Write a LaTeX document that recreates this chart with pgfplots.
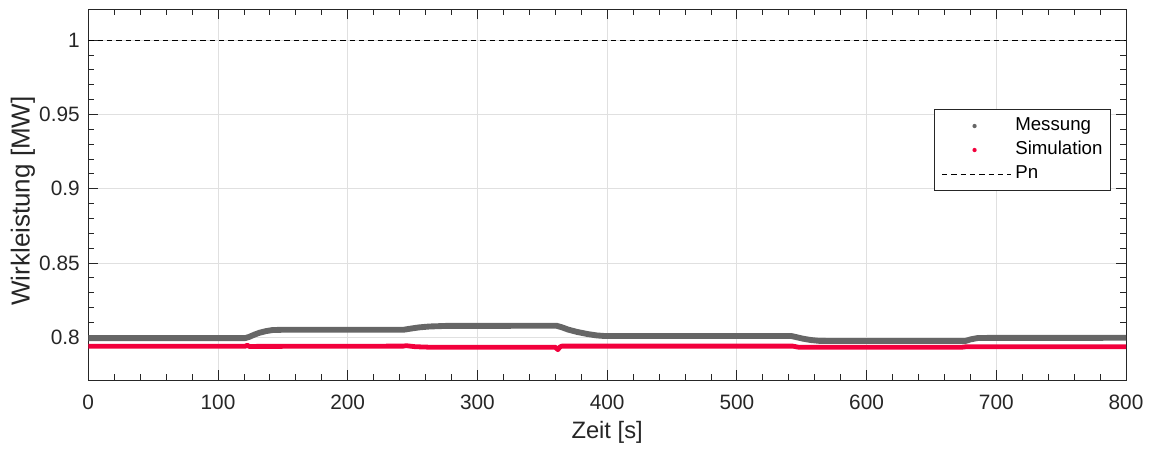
\documentclass[border=0pt]{standalone}
\usepackage{fontspec}
\setmainfont{Liberation Sans}
\usepackage{pgfplots}
\pgfplotsset{compat=1.18}
\definecolor{mess}{HTML}{666666}
\definecolor{simu}{HTML}{F2003C}
\definecolor{axc}{HTML}{262626}
\definecolor{gridc}{HTML}{E0E0E0}
\begin{document}
\begin{tikzpicture}
\begin{axis}[name=ax, scale only axis, width=778.3pt, height=278pt,
  xmin=0, xmax=800, ymin=0.7713, ymax=1.0207,
  xtick={0,100,...,800}, ytick={0.8,0.85,0.9,0.95,1},
  xticklabels={0,100,200,300,400,500,600,700,800},
  yticklabels={0.8,0.85,0.9,0.95,1},
  minor x tick num=4, minor y tick num=4,
  tick align=inside, major tick length=7.5pt, minor tick length=4.5pt,
  axis line style={axc, line width=0.6pt},
  every tick/.style={axc, line width=0.6pt},
  grid=major, major grid style={gridc, line width=0.6pt},
  /pgf/number format/assume math mode=true,
  tick label style={font=\fontsize{15.6}{18}\selectfont, text=axc},
  xticklabel style={anchor=center, yshift=-16.7pt},
  yticklabel style={anchor=east, inner sep=0pt, xshift=-6.2pt},
  xlabel={Zeit [s]}, ylabel={Wirkleistung [MW]},
  xlabel style={font=\fontsize{17.8}{20}\selectfont, text=axc, at={(axis description cs:0.5,-0.141)}, anchor=center},
  ylabel style={font=\fontsize{19.5}{22}\selectfont, text=axc, at={(axis description cs:-0.063,0.483)}, anchor=center},
  legend style={at={(rel axis cs:0.9853,0.731)}, anchor=north east,
    draw=axc, line width=0.45pt, fill=white,
    font=\fontsize{14}{16}\selectfont,
    inner xsep=3pt, inner ysep=3.5pt, row sep=0pt,
    nodes={inner xsep=3pt, inner ysep=2pt, text height=10.5pt, text depth=3.5pt}},
  legend cell align=left,
]
\addplot[mess, line width=4.4pt, line join=round,
  legend image code/.code={\path[draw=none] (-5.5pt,0) -- (48.75pt,0); \fill[mess, draw=none] (21.5pt,0) circle (1.6pt);}]
  coordinates {
  (0,0.7995) (121,0.7995) (124,0.8003) (128,0.8018) (132,0.8031) (137,0.8042) (142,0.8049) (150,0.8051)
  (243,0.8051) (248,0.8058) (255,0.8067) (263,0.8073) (276,0.8077) (361,0.8078)
  (365,0.8068) (370,0.8052) (377,0.8036) (385,0.8022) (392,0.8013) (398,0.8009) (542,0.8009)
  (546,0.8001) (551,0.7991) (557,0.7982) (564,0.7976) (600,0.7975) (676,0.7975)
  (680,0.7986) (686,0.7996) (800,0.7997)
  };
\addlegendentry{Messung}
\addplot[simu, line width=3.6pt, line join=round,
  legend image code/.code={\path[draw=none] (-5.5pt,0) -- (48.75pt,0); \fill[simu, draw=none] (21.5pt,0) circle (1.6pt);}]
  coordinates {
  (0,0.7940) (121,0.7940) (122.5,0.7947) (124,0.7939) (243,0.7941) (245,0.7944) (252,0.7937)
  (262,0.7934) (360,0.7934) (362,0.7917) (363.5,0.7934) (365,0.7941) (543,0.7941)
  (548,0.7933) (673,0.7933) (677,0.7937) (800,0.7937)
  };
\addlegendentry{Simulation}
\addplot[black, line width=0.6pt, dash pattern=on 4pt off 3pt,
  legend image code/.code={\path[draw=none] (-5.5pt,0) -- (48.75pt,0); \draw[black, line width=0.6pt, dash pattern=on 4pt off 3pt] (-3pt,0) -- (48.75pt,0);}]
  coordinates {(0,1) (800,1)};
\addlegendentry{Pn}
\end{axis}
\pgfresetboundingbox
\path (ax.south west) ++(-66.2pt,-52.5pt) rectangle ([xshift=18.75pt,yshift=7pt]ax.north east);
\end{tikzpicture}
\end{document}
